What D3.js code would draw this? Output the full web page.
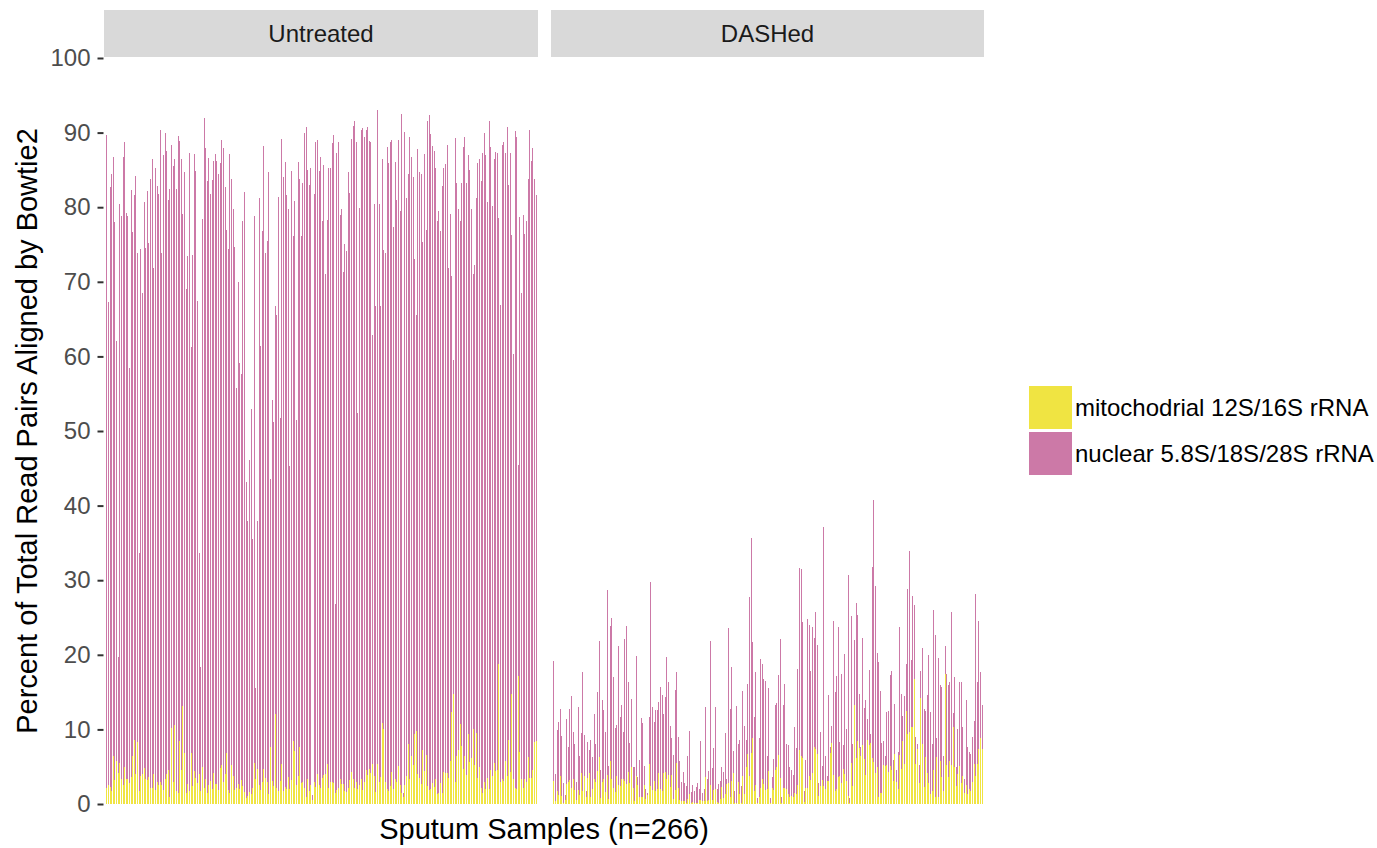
<!DOCTYPE html>
<html>
<head>
<meta charset="utf-8">
<script src="https://cdn.jsdelivr.net/npm/d3@7"></script>
<style>
  body { margin: 0; background: #fff; }
  text { font-family: "Liberation Sans", Arial, Helvetica, sans-serif; }
</style>
</head>
<body>
<script>
// facet names, series names, tick labels
var facets = ["Untreated", "DASHed"];
var seriesNames = ["mitochodrial 12S/16S rRNA", "nuclear 5.8S/18S/28S rRNA"];
var seriesColors = ["#f0e442", "#cc79a7"];
var yTicks = [0, 10, 20, 30, 40, 50, 60, 70, 80, 90, 100];

// percent of read pairs, top of each stacked bar (mito + nuclear), one per sample
var untreatedTotal = [
  89.7, 67.3, 82.7, 84.5, 86.7, 78.0, 62.1, 19.7, 80.4, 78.8, 86.7, 88.7, 79.2, 78.8, 58.5, 82.3, 76.7, 81.6, 84.2, 73.9,
  33.6, 74.4, 68.5, 80.7, 74.5, 82.2, 75.2, 83.8, 86.4, 71.9, 85.3, 82.9, 81.8, 90.3, 73.9, 87.0, 89.9, 87.6, 80.9, 82.5,
  88.4, 85.5, 86.5, 82.5, 89.6, 88.9, 86.5, 79.1, 84.7, 69.1, 73.5, 87.2, 61.2, 73.6, 87.1, 84.8, 67.4, 33.6, 18.3, 78.4,
  91.9, 88.0, 83.5, 86.6, 81.8, 83.6, 86.2, 87.1,
  86.2, 84.5, 85.9, 89.0, 87.9, 82.7, 77.0, 74.4, 87.1, 83.8, 79.8, 74.7, 55.8, 70.0, 59.1, 57.6, 78.1, 82.1, 43.2, 37.9,
  46.1, 52.9, 35.5, 78.8, 15.6, 38.0, 81.2, 61.4, 76.8, 88.2, 73.8, 75.5, 84.7, 43.5, 54.1, 51.2, 66.7, 65.5, 81.4, 51.7,
  89.2, 84.1, 86.1, 81.6, 79.7, 45.3, 84.8, 76.2, 80.8, 51.5, 86.1, 83.8, 76.2, 83.2, 90.0, 90.8, 85.0, 83.0, 85.3, 1.2,
  81.8, 88.7, 89.0, 84.8, 86.7, 78.2, 85.6,
  71.1, 78.3, 85.3, 85.3, 88.6, 89.7, 26.8, 87.2, 88.7, 78.9, 79.8, 71.3, 75.1, 74.1, 84.7, 81.9, 89.2, 90.9, 91.6, 88.7,
  52.4, 79.9, 90.4, 90.6, 89.4, 90.3, 90.7, 88.9, 88.7, 62.9, 80.4, 66.7, 93.0, 80.4, 66.7, 86.4, 74.2, 73.8, 88.1, 85.9,
  88.7, 89.0, 77.3, 86.1, 80.9, 89.0, 79.5, 92.5, 1.5, 90.1, 81.3, 84.5, 89.4, 86.7, 84.1, 73.0, 65.6, 87.8, 84.7, 84.5,
  75.3, 87.1, 77.0, 91.5, 92.4,
  89.8, 88.2, 87.6, 85.3, 78.2, 79.5, 76.8, 82.8, 85.3, 85.8, 88.4, 71.8, 79.1, 70.8, 59.5, 89.3, 83.3, 79.7, 78.2, 83.2,
  88.1, 89.4, 83.3, 87.0, 85.0, 79.7, 71.1, 72.3, 81.3, 85.9, 86.4, 83.5, 87.2, 89.9, 87.0, 80.7, 91.5, 88.1, 80.2, 86.4,
  87.4, 87.2, 78.6, 66.9, 88.4, 88.7, 87.3, 90.7, 83.0, 87.2, 76.3, 60.3, 90.2, 89.4, 45.5, 78.7, 68.5, 79.0, 76.4, 78.2,
  83.8, 90.3, 86.2, 87.9, 83.8, 81.6
];
var untreatedMito = [
  2.1, 2.5, 2.3, 1.8, 6.4, 3.2, 5.8, 4.2, 5.5, 3.4, 2.6, 5.0, 3.4, 3.4, 2.8, 3.6, 6.5, 8.6, 4.0, 8.3,
  1.8, 3.7, 4.0, 4.8, 3.3, 3.2, 3.6, 2.2, 2.2, 4.0, 1.9, 3.0, 2.6, 2.9, 2.5, 1.9, 3.3, 4.0, 4.6, 0.9,
  10.2, 3.0, 10.6, 1.8, 1.5, 8.5, 4.5, 13.2, 6.8, 1.5, 2.7, 1.7, 6.8, 2.4, 4.4, 3.5, 2.8, 4.0, 1.8, 5.0,
  2.2, 3.3, 1.5, 2.6, 3.1, 2.0, 4.2, 2.7,
  2.7, 1.9, 4.8, 5.2, 3.0, 4.0, 6.8, 1.9, 1.5, 5.2, 3.8, 1.9, 2.2, 2.7, 2.0, 3.2, 2.4, 1.6, 0.8, 1.1,
  1.6, 1.3, 2.2, 5.5, 3.3, 4.7, 2.5, 1.9, 2.9, 4.7, 3.5, 3.0, 1.4, 7.7, 3.1, 2.4, 12.0, 2.2, 1.8, 3.1,
  5.3, 1.8, 2.3, 2.0, 3.6, 2.0, 3.2, 8.5, 7.1, 2.6, 3.7, 7.6, 2.8, 2.9, 2.2, 0.9, 3.4, 1.8, 2.5, 0.6,
  3.0, 2.3, 4.0, 2.6, 2.1, 3.5, 3.9,
  4.0, 5.3, 2.2, 3.0, 3.0, 2.8, 1.5, 1.9, 2.2, 3.4, 2.7, 2.7, 1.8, 1.6, 2.1, 3.2, 4.3, 3.3, 2.2, 3.0,
  2.0, 2.6, 3.4, 1.9, 2.9, 4.6, 3.9, 4.7, 4.1, 5.4, 3.7, 1.6, 5.4, 3.0, 3.6, 10.9, 10.0, 2.9, 2.0, 1.7,
  2.4, 4.3, 2.0, 3.3, 3.0, 5.1, 2.5, 1.5, 0.9, 2.6, 3.8, 8.0, 3.3, 6.4, 5.2, 9.4, 9.8, 4.0, 3.5, 2.7,
  7.2, 4.4, 6.6, 2.4, 1.9,
  2.0, 2.8, 2.3, 3.4, 1.3, 1.5, 2.8, 1.5, 4.3, 4.1, 4.1, 3.5, 5.8, 12.3, 14.8, 3.0, 6.5, 7.3, 10.7, 7.8,
  4.7, 6.4, 3.9, 9.4, 5.6, 6.2, 10.1, 5.2, 9.5, 3.5, 5.0, 2.1, 1.5, 3.0, 2.0, 3.5, 2.0, 4.6, 3.7, 5.5,
  4.4, 4.5, 18.8, 2.9, 3.4, 3.1, 5.8, 3.7, 8.6, 4.3, 14.8, 3.3, 2.1, 2.0, 17.2, 7.0, 3.3, 2.1, 3.4, 2.9,
  6.3, 3.5, 3.5, 4.5, 8.3, 8.5
];
var dashedTotal = [
  19.2, 4.0, 9.9, 11.0, 12.8, 9.1, 2.8, 1.2, 11.4, 7.7, 12.7, 14.5, 9.7, 8.0, 2.9, 13.0, 6.4, 9.5, 17.7, 9.3,
  1.8, 8.3, 7.2, 8.6, 6.3, 12.0, 8.1, 15.0, 21.8, 4.5, 14.0, 12.6, 9.7, 28.7, 5.1, 23.9, 25.0, 17.0, 10.2, 10.6,
  21.2, 11.6, 13.3, 9.7, 22.1, 23.9, 16.3, 8.2, 14.1, 4.9, 4.9, 19.8, 3.6, 5.9, 11.5, 10.8, 5.1, 2.0, 1.5, 11.6,
  29.7, 13.0, 11.0, 12.6, 12.6, 13.7, 15.7,
  14.6, 12.0, 14.3, 19.7, 16.3, 10.4, 8.8, 6.6, 15.3, 17.7, 9.0, 5.8, 3.0, 4.3, 2.8, 2.4, 6.4, 9.8, 1.6, 2.5,
  1.7, 2.3, 2.8, 2.0, 8.4, 1.5, 2.0, 13.0, 3.4, 4.4, 21.8, 4.8, 7.5, 13.0, 2.0, 2.7, 3.1, 5.0, 4.3, 9.5,
  3.3, 23.6, 12.7, 18.4, 7.1, 1.8, 13.2, 8.0, 8.6, 2.4, 15.2, 10.4, 8.6, 16.1, 27.8, 35.6, 21.7, 11.6, 17.7, 0.8,
  8.8, 19.4, 18.7, 16.7, 16.5, 6.4,
  15.5, 0.8, 3.6, 6.0, 13.3, 13.6, 17.3, 22.1, 1.0, 13.3, 16.1, 8.1, 7.9, 5.0, 4.5, 3.9, 10.3, 7.5, 18.1, 31.6,
  31.5, 24.4, 1.7, 5.9, 24.8, 24.0, 17.8, 23.7, 22.3, 25.7, 21.3, 2.8, 9.7, 5.1, 37.1, 6.4, 3.8, 14.6, 7.6, 10.4,
  24.5, 15.0, 17.1, 23.7, 8.3, 17.4, 7.9, 20.1, 10.1, 30.7, 0.8, 25.2, 8.0, 22.0, 26.9, 25.3, 14.7, 7.6, 22.3, 12.9,
  13.9, 11.4, 17.9, 9.4, 31.8, 40.8,
  29.2, 20.3, 19.0, 15.2, 8.2, 8.4, 6.4, 12.3, 12.5, 17.3, 17.8, 5.9, 13.4, 4.5, 7.0, 23.7, 14.7, 11.8, 14.5, 18.8,
  28.8, 33.9, 19.3, 27.9, 26.7, 9.0, 8.1, 5.2, 17.8, 20.9, 12.7, 12.5, 14.6, 20.0, 12.3, 8.0, 26.0, 22.7, 8.9, 19.6,
  16.0, 15.7, 6.4, 21.2, 17.4, 15.9, 16.4, 25.7, 12.2, 17.0, 4.9, 10.0, 16.4, 16.4, 10.3, 3.4, 14.0, 7.6, 7.0, 6.7,
  9.0, 11.1, 28.1, 16.4, 24.5, 17.7, 13.3
];
var dashedMito = [
  3.1, 0.4, 1.7, 1.2, 3.8, 1.1, 0.2, 0.5, 2.7, 2.9, 3.2, 2.2, 3.3, 1.9, 0.6, 1.9, 1.2, 4.1, 1.7, 3.7,
  1.0, 3.5, 4.1, 0.9, 2.0, 3.3, 2.9, 4.4, 6.3, 0.8, 2.9, 3.4, 1.6, 3.9, 0.7, 5.8, 3.3, 2.2, 1.6, 3.8,
  2.6, 2.4, 3.3, 3.3, 3.1, 2.7, 4.3, 2.8, 5.0, 2.1, 0.4, 3.8, 2.6, 0.9, 0.9, 0.9, 2.5, 0.7, 1.2, 5.4,
  2.4, 1.9, 3.1, 1.7, 2.0, 4.2, 2.0,
  1.7, 4.1, 4.3, 3.3, 3.9, 2.3, 3.9, 0.7, 1.9, 5.5, 2.1, 0.5, 0.4, 0.4, 0.4, 0.1, 0.7, 1.4, 0.1, 0.3,
  0.2, 0.1, 0.1, 0.6, 0.6, 0.4, 0.4, 3.6, 0.4, 0.5, 2.6, 0.6, 1.9, 2.0, 0.3, 0.2, 0.7, 2.3, 0.8, 1.3,
  2.7, 2.8, 1.0, 3.1, 4.1, 0.2, 0.2, 2.9, 1.3, 0.2, 3.7, 1.4, 4.9, 6.7, 3.7, 6.8, 8.9, 1.7, 2.6, 0.1,
  1.0, 2.2, 3.3, 2.7, 1.9, 2.0,
  4.4, 0.1, 2.2, 1.9, 4.5, 5.0, 6.6, 3.5, 0.1, 2.2, 2.1, 2.0, 1.4, 1.0, 1.1, 0.9, 1.5, 1.3, 2.6, 7.3,
  6.5, 6.2, 0.3, 2.2, 2.2, 3.8, 3.2, 4.2, 7.6, 7.4, 6.7, 1.1, 2.4, 3.2, 2.4, 2.0, 3.1, 3.1, 6.9, 8.2,
  3.9, 1.7, 2.0, 3.6, 3.7, 2.8, 4.7, 4.0, 3.1, 1.1, 0.1, 5.5, 2.4, 13.3, 6.2, 8.5, 7.5, 6.5, 7.9, 6.0,
  3.9, 8.6, 7.9, 8.2, 6.2, 5.6,
  4.2, 5.0, 1.0, 1.5, 1.5, 5.2, 5.1, 5.2, 4.3, 5.1, 4.5, 3.1, 6.7, 3.0, 2.0, 6.6, 4.7, 8.4, 5.4, 12.4,
  9.4, 9.7, 10.3, 10.3, 16.7, 5.4, 7.4, 2.8, 14.2, 8.0, 2.3, 6.3, 4.2, 2.8, 1.3, 1.7, 4.5, 1.0, 6.3, 0.9,
  5.8, 3.6, 1.7, 17.4, 5.2, 3.6, 5.8, 5.2, 10.3, 5.0, 2.4, 4.0, 5.1, 2.8, 3.7, 1.5, 2.5, 1.3, 2.0, 1.7,
  3.0, 5.4, 3.7, 5.4, 7.4, 8.8, 7.4
];

var width = 1377, height = 848;

var svg = d3.select("body").append("svg")
    .attr("width", width)
    .attr("height", height);

var y = d3.scaleLinear()
    .domain([0, 100])
    .range([804, 58]);

var panels = [
  { name: facets[0], x0: 104, x1: 538, total: untreatedTotal, mito: untreatedMito },
  { name: facets[1], x0: 551, x1: 984, total: dashedTotal, mito: dashedMito }
];

panels.forEach(function (p) {
  var x = d3.scaleBand()
      .domain(d3.range(p.total.length))
      .range([p.x0 + 1, p.x1 - 1])
      .paddingOuter(0.3);

  // strip
  svg.append("rect")
      .attr("x", p.x0).attr("y", 10)
      .attr("width", p.x1 - p.x0).attr("height", 47)
      .style("fill", "#d9d9d9");
  svg.append("text")
      .attr("x", (p.x0 + p.x1) / 2).attr("y", 34)
      .attr("dy", "0.35em")
      .attr("text-anchor", "middle")
      .style("font-size", "24px")
      .style("fill", "#1a1a1a")
      .text(p.name);

  var g = svg.append("g").attr("shape-rendering", "crispEdges");

  // nuclear on top of mito
  g.selectAll(".nuc")
    .data(p.total)
    .enter().append("rect")
      .attr("x", function (d, i) { return Math.round(x(i) + x.bandwidth() / 2); })
      .attr("width", 1)
      .attr("y", function (d) { return y(d); })
      .attr("height", function (d, i) { return Math.max(0, y(p.mito[i]) - y(d)); })
      .style("fill", seriesColors[1]);

  g.selectAll(".mito")
    .data(p.mito)
    .enter().append("rect")
      .attr("x", function (d, i) { return Math.round(x(i) + x.bandwidth() / 2); })
      .attr("width", 1)
      .attr("y", function (d) { return y(d); })
      .attr("height", function (d) { return y(0) - y(d); })
      .style("fill", seriesColors[0]);
});

// y axis
var yAxis = svg.append("g")
    .attr("transform", "translate(103.5,0)")
    .call(d3.axisLeft(y).tickValues(yTicks).tickSize(6).tickSizeOuter(0).tickPadding(7));
yAxis.select(".domain").remove();
yAxis.selectAll(".tick line").style("stroke", "#333").style("stroke-width", "2px");
yAxis.selectAll(".tick text")
    .style("font-size", "24px")
    .style("fill", "#4d4d4d")
    .style("font-family", "'Liberation Sans', Arial, sans-serif");

// axis titles
svg.append("text")
    .attr("transform", "translate(37,431) rotate(-90)")
    .attr("text-anchor", "middle")
    .style("font-size", "29px")
    .style("fill", "#000")
    .text("Percent of Total Read Pairs Aligned by Bowtie2");

svg.append("text")
    .attr("x", 544).attr("y", 839)
    .attr("text-anchor", "middle")
    .style("font-size", "29px")
    .style("fill", "#000")
    .text("Sputum Samples (n=266)");

// legend
var legend = svg.append("g").attr("transform", "translate(1029,386)");
seriesNames.forEach(function (name, i) {
  legend.append("rect")
      .attr("x", 0).attr("y", i * 46)
      .attr("width", 43).attr("height", 43)
      .style("fill", seriesColors[i]);
  legend.append("text")
      .attr("x", 46).attr("y", i * 46 + 21.5)
      .attr("dy", "0.35em")
      .style("font-size", "24px")
      .style("fill", "#000")
      .text(name);
});
</script>
</body>
</html>
